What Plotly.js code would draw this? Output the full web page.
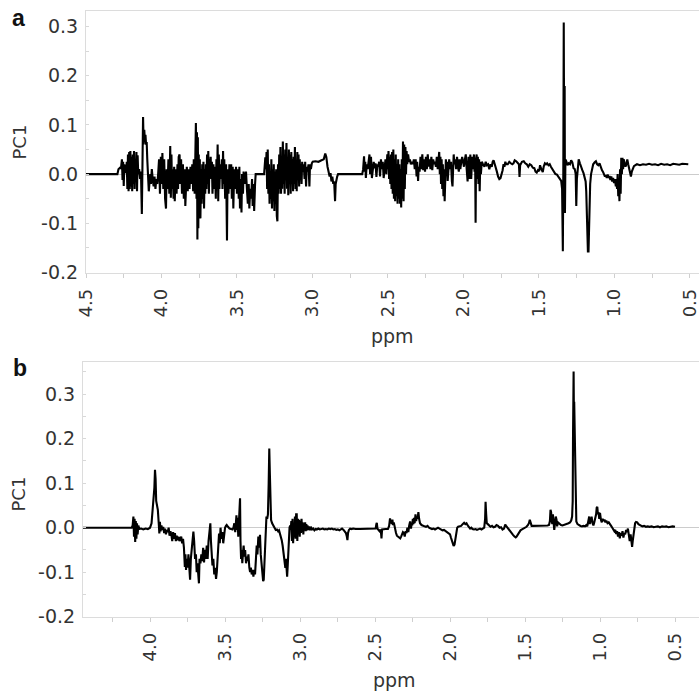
<!DOCTYPE html>
<html>
<head>
<meta charset="utf-8">
<script src="https://cdn.plot.ly/plotly-3.0.1.min.js"></script>
<style>
html,body{margin:0;padding:0;background:#fff;}
#chart{width:699px;height:692px;}
</style>
</head>
<body>
<div id="chart"></div>
<script>
// ---- Panel a : PC1 loadings vs chemical shift (ppm), pairs [ppm, PC1] ----
const panelA_part1 = [
[4.500,0],[4.292,0],[4.285,0.010],[4.275,0.013],[4.268,0.012],
[4.262,0.030],[4.258,-0.012],[4.254,0.025],[4.250,-0.024],[4.246,0.020],[4.242,0.005],[4.238,0.015],[4.234,0.002],
[4.230,0.025],[4.226,-0.030],[4.222,0.040],[4.218,-0.035],[4.214,0.045],[4.210,-0.030],[4.206,0.047],[4.202,-0.025],
[4.198,0.035],[4.194,-0.035],[4.190,0.040],[4.186,-0.020],[4.182,0.047],[4.178,-0.030],[4.174,0.030],[4.170,-0.010],
[4.166,0.045],[4.162,-0.035],[4.158,0.038],[4.154,0.000],[4.148,0.010],[4.142,-0.010],[4.136,0.005],[4.130,-0.081],
[4.126,0.020],[4.122,0.116],[4.118,0.060],[4.114,0.090],[4.110,0.070],[4.106,0.080],[4.102,0.060],[4.098,0.065],
[4.094,0.030],[4.088,-0.010],[4.084,-0.035],[4.080,-0.020],[4.074,0.000],[4.070,-0.020],[4.064,0.010],[4.058,-0.010],
[4.052,-0.025],[4.046,-0.005],[4.040,-0.030],[4.034,-0.010],[4.028,-0.020],[4.022,0.000],[4.016,0.030],[4.010,-0.040],
[4.004,0.035],[3.998,-0.020],[3.994,0.043],[3.988,-0.030],[3.982,0.030],[3.976,-0.050],[3.970,-0.070],[3.966,0.010],
[3.960,-0.030],[3.954,0.030],[3.948,-0.040],[3.942,0.057],[3.938,-0.048],[3.934,0.040],[3.930,-0.030],[3.926,0.010],
[3.920,-0.050],[3.916,0.015],[3.912,-0.055],[3.906,0.010],[3.900,-0.040],[3.894,0.020],[3.890,-0.030],[3.886,0.035],
[3.880,0.040],[3.876,-0.020],[3.870,0.030],[3.864,-0.040],[3.858,0.020],[3.852,-0.050],[3.846,0.010],[3.842,-0.065],
[3.838,-0.020],[3.832,0.015],[3.826,-0.035],[3.820,0.010],[3.814,-0.030],[3.808,0.015],[3.802,-0.020],[3.796,0.020],
[3.790,-0.035],[3.786,0.030],[3.780,-0.040],[3.776,0.060],[3.772,0.104],[3.768,-0.050],[3.765,0.085],[3.762,-0.133],
[3.759,0.075],[3.756,-0.110],[3.753,0.040],[3.750,-0.080],[3.746,0.030],[3.742,-0.090],[3.738,0.010],[3.734,-0.060],
[3.730,0.020],[3.726,-0.050],[3.722,0.025],[3.718,-0.070],[3.714,0.010],[3.710,-0.040],[3.706,0.020],[3.702,-0.030],
[3.698,0.040],[3.694,-0.020],[3.690,0.047],[3.686,-0.040],[3.682,0.030],[3.678,0.010],[3.674,0.035],[3.670,-0.010],
[3.666,0.025],[3.662,-0.040],[3.656,0.020],[3.652,-0.030],[3.646,0.015],[3.640,-0.050],[3.636,0.030],[3.632,-0.020],
[3.628,0.060],[3.624,-0.055],[3.620,0.040],[3.616,-0.030],[3.612,0.020],[3.606,-0.010],[3.600,0.030],[3.596,-0.030],
[3.592,0.047],[3.588,-0.020],[3.584,0.030],[3.578,-0.050],[3.572,0.020],[3.566,-0.135],[3.562,0.010],[3.556,-0.040],
[3.550,0.020],[3.544,-0.030],[3.538,0.020],[3.534,-0.050],[3.528,0.015],[3.524,-0.070],[3.518,0.010],[3.512,-0.030],
[3.506,0.015],[3.500,-0.040],[3.494,0.010]
];
const panelA_part2 = [
[3.488,-0.050],[3.484,0.015],[3.480,-0.070],[3.476,-0.010],[3.470,-0.078],[3.466,0.000],[3.460,-0.040],[3.456,0.005],
[3.450,-0.020],[3.446,0.000],[3.440,0.005],[3.434,-0.030],[3.428,-0.060],[3.422,-0.020],[3.418,-0.070],[3.412,-0.030],
[3.406,-0.050],[3.400,-0.010],[3.396,-0.065],[3.390,-0.020],[3.386,-0.075],[3.380,-0.020],[3.376,0.000],[3.320,0.000],
[3.316,0.015],[3.312,0.034],[3.308,0.010],[3.304,0.045],[3.300,-0.030],[3.296,0.050],[3.292,-0.040],[3.288,0.020],
[3.284,-0.060],[3.280,0.000],[3.276,-0.050],[3.272,0.030],[3.268,-0.070],[3.264,0.010],[3.260,-0.055],[3.256,0.020],
[3.252,-0.075],[3.248,0.005],[3.244,-0.060],[3.240,0.010],[3.236,-0.085],[3.232,-0.096],[3.228,0.020],[3.224,-0.040],
[3.220,0.040],[3.216,-0.030],[3.212,0.055],[3.208,-0.040],[3.204,0.030],[3.200,-0.030],[3.196,0.066],[3.192,-0.020],
[3.188,0.040],[3.184,-0.040],[3.180,0.050],[3.176,-0.010],[3.172,0.063],[3.168,-0.030],[3.164,0.035],[3.160,-0.043],
[3.156,0.050],[3.152,-0.020],[3.148,0.040],[3.144,-0.040],[3.140,0.045],[3.136,-0.010],[3.132,0.030],[3.128,-0.035],
[3.124,0.035],[3.120,-0.020],[3.116,0.055],[3.112,-0.030],[3.108,0.025],[3.104,-0.035],[3.100,0.045],[3.096,-0.010],
[3.092,0.040],[3.088,-0.025],[3.084,0.030],[3.080,-0.010],[3.076,0.020],[3.072,-0.020],[3.068,0.025],[3.062,0.005],
[3.058,0.020],[3.052,-0.010],[3.048,0.025],[3.042,-0.025],[3.038,0.015],[3.032,0.005],[3.026,0.020],[3.020,-0.025],
[3.016,0.020],[3.010,0.010],[3.004,0.022],[2.998,0.025],[2.980,0.026],[2.960,0.025],[2.940,0.028],[2.925,0.030],
[2.915,0.042],[2.908,0.035],[2.900,0.015],[2.892,0.005],[2.886,-0.005],[2.880,0.002],[2.874,-0.015],[2.868,-0.005],
[2.862,-0.020],[2.856,-0.015],[2.850,-0.055],[2.846,-0.020],[2.842,-0.010],[2.836,-0.005],[2.830,0.000],[2.670,0.000]
];
const panelA_part3 = [
[2.664,0.010],[2.658,0.036],[2.654,0.005],[2.650,0.025],[2.646,-0.008],[2.640,0.020],[2.634,0.010],[2.628,0.025],
[2.622,0.040],[2.618,0.000],[2.612,0.035],[2.606,-0.008],[2.600,0.020],[2.594,0.025],[2.588,0.012],[2.582,0.022],
[2.576,-0.006],[2.570,0.020],[2.564,0.015],[2.558,0.025],[2.552,-0.005],[2.546,0.030],[2.540,0.010],[2.534,0.025],
[2.528,-0.008],[2.522,0.020],[2.516,0.030],[2.510,0.000],[2.504,0.040],[2.500,0.010],[2.496,0.047],[2.492,-0.010],
[2.488,0.035],[2.484,-0.020],[2.480,0.040],[2.476,-0.030],[2.472,0.045],[2.468,-0.040],[2.464,0.050],[2.460,-0.050],
[2.456,0.030],[2.452,-0.055],[2.448,0.040],[2.444,-0.045],[2.440,0.020],[2.436,-0.060],[2.432,0.030],[2.428,-0.050],
[2.424,0.020],[2.420,-0.060],[2.416,0.010],[2.412,-0.068],[2.408,0.030],[2.404,-0.050],[2.400,0.066],[2.396,-0.055],
[2.392,0.060],[2.388,-0.030],[2.384,0.055],[2.380,0.000],[2.376,0.047],[2.372,0.020],[2.366,0.040],[2.360,0.025],
[2.354,0.030],[2.348,0.020],[2.340,0.025],[2.334,0.020],[2.328,0.030],[2.322,0.010],[2.316,0.030],[2.310,-0.005],
[2.306,0.025],[2.300,-0.014],[2.296,0.015],[2.290,0.005],[2.284,0.035],[2.278,0.010],[2.272,0.040],[2.266,0.008],
[2.260,0.030],[2.254,0.005],[2.248,0.035],[2.242,0.010],[2.236,0.040],[2.230,0.015],[2.224,0.030],[2.218,0.010],
[2.212,0.035],[2.206,0.008],[2.200,0.030],[2.194,0.020],[2.188,0.025],[2.182,0.015],[2.176,0.035],[2.170,0.010],
[2.164,0.040],[2.160,0.045],[2.156,0.000],[2.152,0.035],[2.148,-0.020],[2.144,0.030],[2.140,-0.030],[2.136,0.020],
[2.132,-0.045],[2.128,0.010],[2.124,-0.055],[2.120,0.000],[2.116,0.030],[2.112,0.010],[2.108,0.025],[2.104,-0.014],
[2.100,0.020],[2.094,0.030],[2.088,0.010],[2.082,0.025],[2.076,-0.015],[2.072,-0.025],[2.068,0.010],[2.064,0.040],
[2.060,0.020],[2.054,0.030],[2.048,0.010],[2.042,0.035],[2.036,0.015],[2.030,0.005],[2.026,0.030],[2.020,0.010],
[2.014,0.025],[2.008,0.035],[2.002,0.025],[1.996,0.015],[1.990,0.030],[1.984,0.040],[1.978,0.010],[1.972,-0.015],
[1.966,0.035],[1.960,-0.010],[1.954,0.040],[1.948,-0.010],[1.942,0.035],[1.936,0.010],[1.930,0.040],[1.926,0.005],
[1.922,0.030],[1.919,-0.099],[1.916,0.030],[1.912,0.040],[1.908,-0.010],[1.904,0.035],[1.900,-0.020],[1.896,0.030],
[1.892,-0.035],[1.888,0.025],[1.884,0.000],[1.878,0.025],[1.870,0.020],[1.860,0.015],[1.852,0.025],[1.844,0.018],
[1.836,0.020],[1.828,0.010],[1.820,0.020],[1.812,0.015],[1.806,0.025],[1.800,0.028],[1.792,0.020],[1.786,0.010],
[1.778,0.005],[1.770,-0.005],[1.762,-0.010],[1.754,-0.008],[1.746,0.000],[1.740,0.008],[1.734,0.020],[1.728,0.015],
[1.722,0.025],[1.716,0.020],[1.706,0.020],[1.696,0.025],[1.686,0.022],[1.676,0.020],[1.668,0.022],[1.660,0.028],
[1.650,0.026],[1.640,0.022],[1.632,0.020],[1.628,-0.006],[1.624,0.018],[1.612,0.025],[1.600,0.026]
];
const panelA_part4 = [
[1.590,0.022],[1.580,0.020],[1.570,0.015],[1.560,0.020],[1.550,0.018],[1.540,0.013],[1.530,0.012],[1.522,0.005],
[1.514,0.003],[1.506,0.008],[1.498,0.006],[1.492,0.018],[1.486,0.012],[1.480,0.008],[1.474,0.004],[1.468,0.015],
[1.460,0.022],[1.452,0.020],[1.445,0.022],[1.436,0.018],[1.428,0.020],[1.420,0.015],[1.410,0.010],[1.400,0.005],
[1.390,0.000],[1.380,-0.001],[1.370,-0.006],[1.360,-0.010],[1.352,-0.014],[1.346,-0.030],[1.341,-0.157],[1.338,0.000],
[1.335,0.308],[1.332,0.020],[1.329,0.179],[1.327,-0.079],[1.324,0.030],[1.318,0.026],[1.310,0.018],[1.302,0.022],
[1.294,0.020],[1.286,0.028],[1.278,0.024],[1.270,0.012],[1.262,0.010],[1.256,0.000],[1.252,-0.065],[1.248,-0.010],
[1.242,0.020],[1.236,0.030],[1.228,0.022],[1.220,0.012],[1.212,0.008],[1.204,0.002],[1.196,-0.006],[1.190,-0.015],
[1.186,-0.035],[1.182,-0.080],[1.178,-0.140],[1.175,-0.157],[1.171,-0.157],[1.168,-0.120],[1.164,-0.060],[1.160,-0.020],
[1.154,0.000],[1.148,0.012],[1.140,0.020],[1.130,0.024],[1.122,0.026],[1.114,0.020],[1.106,0.018],[1.098,0.022],
[1.090,0.012],[1.082,0.008],[1.074,0.004],[1.068,0.000],[1.062,-0.005],[1.056,-0.002],[1.050,-0.008],[1.044,-0.001],
[1.038,-0.008],[1.032,-0.004],[1.026,-0.012],[1.020,-0.005],[1.014,-0.015],[1.008,-0.008],[1.002,-0.018],[0.996,-0.010],
[0.990,-0.025],[0.986,-0.010],[0.982,-0.030],[0.978,0.000],[0.974,-0.045],[0.970,-0.020],[0.966,-0.055],[0.962,0.010],
[0.958,-0.040],[0.954,0.033],[0.950,0.000],[0.946,0.033],[0.942,0.010],[0.938,0.030],[0.932,0.020],[0.926,0.015],
[0.920,0.020],[0.914,0.030],[0.908,0.020],[0.902,0.010],[0.896,0.000],[0.890,-0.005],[0.884,0.005],[0.878,0.012],
[0.870,0.016],[0.860,0.018],[0.850,0.020],[0.830,0.018],[0.810,0.020],[0.790,0.019],[0.770,0.021],[0.750,0.019],
[0.730,0.020],[0.710,0.018],[0.690,0.021],[0.670,0.019],[0.650,0.020],[0.630,0.018],[0.610,0.021],[0.590,0.020],
[0.570,0.019],[0.550,0.021],[0.530,0.020],[0.510,0.020]
];

// ---- Panel b ----
const panelB_part1 = [
[4.447,0],[4.122,0],[4.116,0.005],[4.111,0.025],[4.107,-0.020],[4.103,0.020],[4.099,-0.032],[4.095,0.015],[4.091,-0.025],
[4.087,0.010],[4.083,-0.015],[4.078,0.005],[4.072,-0.003],[4.060,-0.002],[4.045,-0.004],[4.030,-0.002],[4.015,-0.003],
[4.000,0.000],[3.990,0.010],[3.982,0.045],[3.976,0.055],[3.971,0.090],[3.967,0.130],[3.963,0.110],[3.959,0.060],
[3.953,0.050],[3.948,0.040],[3.942,0.010],[3.938,-0.013],[3.934,0.013],[3.930,-0.008],[3.924,0.005],[3.918,-0.005],
[3.912,0.002],[3.906,-0.012],[3.900,-0.002],[3.894,-0.015],[3.888,-0.005],[3.882,-0.010],[3.876,0.000],[3.870,-0.018],
[3.864,-0.008],[3.858,-0.015],[3.852,-0.030],[3.846,-0.010],[3.840,-0.025],[3.834,-0.012],[3.828,-0.030],[3.822,-0.018],
[3.816,-0.028],[3.810,-0.020],[3.804,-0.030],[3.798,-0.022],[3.792,-0.020],[3.786,-0.035],[3.780,-0.025],[3.774,-0.045],
[3.768,-0.088],[3.764,-0.060],[3.760,-0.095],[3.756,-0.070],[3.750,-0.090],[3.744,-0.060],[3.738,-0.100],[3.733,-0.117],
[3.728,-0.070],[3.722,-0.040],[3.716,-0.015],[3.711,-0.009],[3.706,-0.030],[3.700,-0.070],[3.694,-0.060],[3.689,-0.100],
[3.684,-0.080],[3.678,-0.110],[3.674,-0.125],[3.670,-0.070],[3.664,-0.080],[3.658,-0.060],[3.652,-0.075],[3.646,-0.045],
[3.640,-0.078],[3.634,-0.050],[3.628,-0.070],[3.622,-0.040],[3.616,-0.070],[3.610,-0.030],[3.604,-0.010],[3.598,0.010],
[3.594,-0.030],[3.590,-0.070],[3.584,-0.085],[3.578,-0.070],[3.572,-0.105],[3.566,-0.090],[3.560,-0.115],[3.555,-0.100],
[3.550,-0.060],[3.545,-0.030],[3.540,-0.013],[3.535,-0.035],[3.530,0.000],[3.524,-0.025],[3.518,-0.010],[3.512,-0.035],
[3.506,-0.015],[3.500,0.000],[3.494,0.004],[3.489,0.006],[3.480,0.002],[3.470,-0.002],[3.460,-0.003],[3.450,-0.004],
[3.444,0.000]
];
const panelB_part2 = [
[3.438,0.010],[3.432,-0.010],[3.428,0.020],[3.424,0.028],[3.420,-0.005],[3.416,0.022],[3.412,-0.020],[3.408,0.010],
[3.404,0.035],[3.400,0.066],[3.397,-0.030],[3.393,-0.070],[3.389,-0.050],[3.385,-0.080],[3.380,-0.055],[3.376,-0.040],
[3.371,-0.065],[3.366,-0.050],[3.360,-0.080],[3.355,-0.065],[3.350,-0.075],[3.344,-0.060],[3.338,-0.090],[3.333,-0.100],
[3.328,-0.090],[3.322,-0.105],[3.316,-0.095],[3.311,-0.110],[3.305,-0.095],[3.300,-0.105],[3.294,-0.070],[3.289,-0.040],
[3.284,-0.060],[3.278,-0.020],[3.272,-0.045],[3.267,-0.016],[3.262,-0.060],[3.256,-0.090],[3.250,-0.110],[3.246,-0.120],
[3.242,-0.117],[3.238,-0.080],[3.233,-0.030],[3.228,0.010],[3.224,0.025],[3.219,0.020],[3.214,0.030],[3.209,0.100],
[3.205,0.178],[3.201,0.120],[3.197,0.040],[3.193,0.017],[3.186,0.010],[3.178,0.005],[3.170,0.000],[3.162,-0.005],
[3.154,-0.004],[3.146,-0.008],[3.140,-0.006],[3.134,-0.012],[3.128,-0.020],[3.122,-0.028],[3.116,-0.040],[3.110,-0.060],
[3.104,-0.075],[3.098,-0.090],[3.094,-0.070],[3.090,-0.105],[3.086,-0.110],[3.082,-0.085],[3.078,-0.040],[3.074,-0.010],
[3.070,0.000],[3.066,0.005],[3.062,-0.005],[3.058,0.015],[3.054,-0.030],[3.050,0.020],[3.046,-0.035],[3.042,0.010],
[3.038,-0.020],[3.034,0.025],[3.030,-0.025],[3.026,0.030],[3.022,0.030],[3.018,-0.030],[3.014,0.020],[3.010,-0.015],
[3.006,0.018],[3.002,-0.020],[2.998,0.015],[2.994,-0.012],[2.990,0.020],[2.986,-0.010],[2.982,0.012],[2.978,-0.015],
[2.974,0.010],[2.970,-0.005],[2.966,0.012],[2.962,-0.008],[2.958,0.008],[2.954,-0.006],[2.950,0.005],[2.946,-0.005],
[2.940,0.003],[2.934,-0.006],[2.928,0.002],[2.920,-0.004],[2.912,-0.002],[2.904,-0.006],[2.896,-0.003],[2.888,-0.004],
[2.878,-0.002],[2.868,-0.004],[2.858,-0.003],[2.848,-0.002],[2.838,-0.004],[2.828,-0.003],[2.818,-0.004],[2.808,-0.002],
[2.798,-0.003],[2.788,-0.002],[2.778,-0.004],[2.768,-0.003],[2.758,-0.005],[2.748,-0.004],[2.738,-0.006],[2.730,-0.004]
];
const panelB_part3 = [
[2.720,-0.002],[2.710,-0.005],[2.700,-0.008],[2.694,-0.012],[2.688,-0.020],[2.684,-0.028],[2.680,-0.012],[2.674,-0.005],
[2.666,-0.002],[2.656,-0.003],[2.646,-0.002],[2.630,-0.003],[2.600,-0.003],[2.570,-0.003],[2.540,-0.003],[2.510,-0.003],
[2.496,-0.002],[2.491,0.008],[2.488,0.011],[2.484,-0.002],[2.478,-0.006],[2.470,-0.008],[2.462,-0.004],[2.457,-0.024],
[2.453,-0.004],[2.444,-0.003],[2.430,-0.003],[2.414,-0.003],[2.406,0.004],[2.400,0.021],[2.396,0.010],[2.392,0.017],
[2.388,0.008],[2.384,0.018],[2.380,0.006],[2.375,0.012],[2.370,0.000],[2.365,-0.006],[2.360,-0.012],[2.354,-0.018],
[2.348,-0.020],[2.340,-0.022],[2.332,-0.024],[2.326,-0.020],[2.320,-0.015],[2.314,-0.010],[2.308,-0.012],[2.302,-0.020],
[2.296,-0.008],[2.290,-0.012],[2.284,0.000],[2.278,-0.010],[2.272,0.005],[2.266,0.014],[2.260,-0.002],[2.256,0.010],
[2.252,0.005],[2.248,0.020],[2.244,0.008],[2.240,0.022],[2.236,0.010],[2.230,0.030],[2.226,0.015],[2.220,0.025],
[2.216,0.020],[2.211,0.035],[2.206,0.020],[2.200,0.010],[2.190,0.006],[2.180,0.004],[2.170,0.003],[2.160,0.002],
[2.150,0.004],[2.140,0.000],[2.130,-0.002],[2.120,-0.003],[2.110,-0.002],[2.100,-0.004],[2.090,-0.002],[2.080,0.000],
[2.070,-0.002],[2.060,-0.004],[2.050,-0.006],[2.040,-0.005],[2.030,-0.008],[2.020,-0.010],[2.010,-0.012],[2.000,-0.015],
[1.994,-0.022],[1.988,-0.030],[1.982,-0.036],[1.976,-0.041],[1.970,-0.038],[1.964,-0.025],[1.958,-0.010],[1.952,0.000],
[1.946,0.002],[1.936,0.003],[1.926,0.004],[1.916,0.008],[1.906,0.011],[1.898,0.008],[1.890,0.010],[1.882,0.005],
[1.874,0.002],[1.866,-0.002],[1.858,0.000],[1.850,-0.003],[1.840,-0.004],[1.830,-0.003],[1.820,-0.005],[1.810,-0.004],
[1.800,-0.002],[1.790,-0.004],[1.780,-0.002],[1.772,0.000],[1.766,0.020],[1.763,0.058],[1.759,0.030],[1.755,0.010],
[1.748,0.008],[1.740,0.004],[1.730,0.002],[1.720,0.004],[1.710,0.001],[1.700,0.002],[1.690,0.006],[1.680,0.004],
[1.670,0.000],[1.660,0.001],[1.650,-0.004],[1.640,-0.002],[1.632,0.007],[1.626,0.004],[1.618,0.000],[1.610,-0.004],
[1.600,-0.008],[1.590,-0.012],[1.580,-0.016],[1.570,-0.020],[1.562,-0.022],[1.556,-0.020],[1.548,-0.015],[1.540,-0.010],
[1.530,-0.006],[1.520,-0.004],[1.510,-0.002],[1.500,0.000],[1.490,0.002],[1.480,0.006],[1.474,0.010],[1.468,0.018],
[1.462,0.008],[1.456,0.004],[1.446,0.004],[1.430,0.004],[1.410,0.005],[1.390,0.004],[1.370,0.005],[1.350,0.005],
[1.340,0.006],[1.334,0.015],[1.330,0.040],[1.326,0.035],[1.322,0.015],[1.318,0.008],[1.314,0.030],[1.310,0.008],
[1.305,-0.005],[1.300,0.010],[1.295,0.025],[1.290,0.018],[1.286,0.003],[1.280,0.012],[1.270,0.008],[1.260,0.006],
[1.250,0.005],[1.240,0.006],[1.230,0.008],[1.220,0.009],[1.210,0.010],[1.200,0.012]
];
const panelB_part4 = [
[1.192,0.016],[1.186,0.025],[1.182,0.060],[1.180,0.200],[1.178,0.300],[1.176,0.351],[1.174,0.250],[1.172,0.283],
[1.170,0.230],[1.168,0.163],[1.165,0.080],[1.162,0.030],[1.158,0.014],[1.150,0.008],[1.140,0.005],[1.130,0.004],
[1.120,0.003],[1.110,0.004],[1.100,0.003],[1.092,0.006],[1.085,0.003],[1.078,0.015],[1.072,0.025],[1.068,0.008],
[1.064,0.020],[1.060,0.012],[1.056,0.025],[1.050,0.010],[1.044,0.005],[1.038,0.012],[1.032,0.020],[1.026,0.030],
[1.022,0.045],[1.018,0.047],[1.014,0.030],[1.010,0.035],[1.005,0.020],[1.000,0.033],[0.994,0.018],[0.988,0.012],
[0.982,0.020],[0.976,0.015],[0.970,0.018],[0.964,0.012],[0.958,0.016],[0.950,0.010],[0.942,0.012],[0.934,0.006],
[0.926,0.004],[0.918,0.000],[0.910,-0.004],[0.904,-0.008],[0.898,-0.005],[0.892,-0.014],[0.886,-0.008],[0.880,-0.020],
[0.874,-0.010],[0.868,-0.024],[0.862,-0.012],[0.856,-0.018],[0.850,-0.008],[0.844,-0.022],[0.838,-0.012],[0.832,-0.015],
[0.826,-0.005],[0.820,-0.010],[0.814,-0.002],[0.808,-0.018],[0.802,-0.030],[0.796,-0.015],[0.790,-0.035],[0.786,-0.043],
[0.782,-0.030],[0.778,-0.020],[0.772,0.000],[0.766,0.010],[0.760,0.013],[0.752,0.012],[0.744,0.008],[0.736,0.006],
[0.728,0.004],[0.718,0.003],[0.706,0.004],[0.694,0.002],[0.682,0.003],[0.670,0.002],[0.656,0.003],[0.642,0.001],
[0.628,0.002],[0.614,0.003],[0.600,0.001],[0.586,0.003],[0.572,0.002],[0.558,0.003],[0.544,0.001],[0.530,0.002],
[0.516,0.003],[0.500,0.002]
];

const xTickVals = [4.5, 4.0, 3.5, 3.0, 2.5, 2.0, 1.5, 1.0, 0.5];
const xTickText = ["4.5", "4.0", "3.5", "3.0", "2.5", "2.0", "1.5", "1.0", "0.5"];
const yTickVals = [-0.2, -0.1, 0.0, 0.1, 0.2, 0.3];
const yTickText = ["-0.2", "-0.1", "0.0", "0.1", "0.2", "0.3"];
const panelLabels = ["a", "b"];
const xTitle = "ppm";
const yTitle = "PC1";

const A = panelA_part1.concat(panelA_part2, panelA_part3, panelA_part4);
const B = panelB_part1.concat(panelB_part2, panelB_part3, panelB_part4);

const W = 699, H = 692;
const lineStyle = {color: '#000', width: 2.1};
const traces = [
  {x: A.map(p => p[0]), y: A.map(p => p[1]), xaxis: 'x', yaxis: 'y', type: 'scatter', mode: 'lines', line: lineStyle, hoverinfo: 'skip'},
  {x: B.map(p => p[0]), y: B.map(p => p[1]), xaxis: 'x2', yaxis: 'y2', type: 'scatter', mode: 'lines', line: lineStyle, hoverinfo: 'skip'}
];

const tickFontX = {family: 'DejaVu Sans, Arial, sans-serif', size: 18, color: '#333'};
const tickFontY = {family: 'DejaVu Sans, Arial, sans-serif', size: 19, color: '#333'};
const frame = '#dcdcdc';

function xAxis(domainLeft, range, anchor) {
  return {
    domain: [domainLeft / W, 1], range: range, anchor: anchor,
    tickmode: 'array', tickvals: xTickVals, ticktext: xTickText, tickangle: -90,
    ticks: 'outside', ticklen: 4, tickcolor: '#cfcfcf', tickwidth: 1,
    minor: {dtick: 0.25, ticks: 'outside', ticklen: 4, tickcolor: '#cfcfcf'},
    tickfont: tickFontX, ticklabelstandoff: 4, ticklabeloverflow: 'allow',
    showgrid: false, zeroline: false,
    showline: true, linecolor: frame, linewidth: 1, mirror: true,
    automargin: false, fixedrange: true
  };
}
function yAxis(top, bottom, range, anchor) {
  return {
    domain: [1 - bottom / H, 1 - top / H], range: range, anchor: anchor,
    tickmode: 'array', tickvals: yTickVals, ticktext: yTickText,
    ticks: 'inside', ticklen: 3, tickcolor: '#d8d8d8',
    minor: {dtick: 0.05, ticks: 'inside', ticklen: 3, tickcolor: '#d8d8d8'},
    tickfont: tickFontY, ticklabelstandoff: 3,
    showgrid: false, zeroline: true, zerolinecolor: '#cccccc', zerolinewidth: 1,
    showline: true, linecolor: frame, linewidth: 1, mirror: true,
    automargin: false, fixedrange: true
  };
}

const annFont = {family: 'DejaVu Sans, Arial, sans-serif', size: 19, color: '#333'};
const labelFont = {family: 'Arial, sans-serif', size: 23, color: '#111', weight: 'bold'};
const layout = {
  width: W, height: H,
  margin: {l: 0, r: 0, t: 0, b: 0, pad: 0},
  paper_bgcolor: '#fff', plot_bgcolor: '#fff',
  showlegend: false,
  xaxis: xAxis(86, [4.5, 0.439], 'y'),
  yaxis: yAxis(11, 272.5, [-0.2, 0.3315], 'x'),
  xaxis2: xAxis(83, [4.447, 0.34], 'y2'),
  yaxis2: yAxis(361.7, 616.7, [-0.2, 0.373], 'x2'),
  annotations: [
    {text: panelLabels[0], x: 18 / W, y: 1 - 18 / H, xref: 'paper', yref: 'paper', showarrow: false, xanchor: 'center', yanchor: 'middle', font: labelFont},
    {text: panelLabels[1], x: 20 / W, y: 1 - 368 / H, xref: 'paper', yref: 'paper', showarrow: false, xanchor: 'center', yanchor: 'middle', font: labelFont},
    {text: yTitle, x: 18.5 / W, y: 1 - 142 / H, xref: 'paper', yref: 'paper', showarrow: false, textangle: -90, xanchor: 'center', yanchor: 'middle', font: {family: 'DejaVu Sans, Arial, sans-serif', size: 18, color: '#333'}},
    {text: yTitle, x: 18.5 / W, y: 1 - 494 / H, xref: 'paper', yref: 'paper', showarrow: false, textangle: -90, xanchor: 'center', yanchor: 'middle', font: {family: 'DejaVu Sans, Arial, sans-serif', size: 18, color: '#333'}},
    {text: xTitle, x: 392 / W, y: 1 - 336 / H, xref: 'paper', yref: 'paper', showarrow: false, xanchor: 'center', yanchor: 'middle', font: annFont},
    {text: xTitle, x: 394 / W, y: 1 - 680 / H, xref: 'paper', yref: 'paper', showarrow: false, xanchor: 'center', yanchor: 'middle', font: annFont}
  ]
};

Plotly.newPlot('chart', traces, layout, {displayModeBar: false, staticPlot: true});
</script>
</body>
</html>
